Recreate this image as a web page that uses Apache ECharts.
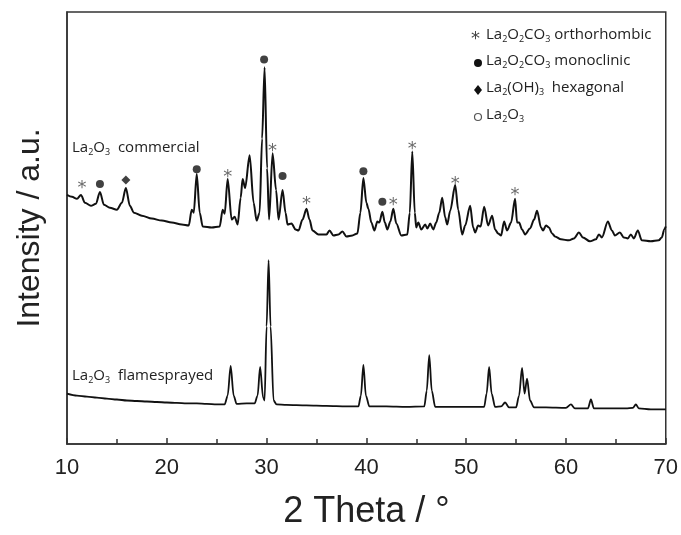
<!DOCTYPE html>
<html><head><meta charset="utf-8">
<script src="https://cdn.jsdelivr.net/npm/echarts@6/dist/echarts.min.js"></script>
<style>html,body{margin:0;padding:0;background:#fff}#c{width:681px;height:535px}</style>
</head><body><div id="c"></div>
<script>
// 2 Theta (deg), intensity (a.u.)
const commercial = [
[10.0,252],[10.5,250],[11.0,248],[11.4,252],[11.8,244],[12.4,241],[12.9,243],[13.3,255],[13.7,242],[14.3,239],
[15.0,237],[15.5,244],[15.9,259],[16.3,241],[16.7,234],[17.5,231],[18.5,228],[19.5,226],[20.5,224],[21.5,222],
[22.2,221],[22.5,237],[22.7,234],[23.0,273],[23.3,234],[23.6,220],[24.5,219],[25.3,220],[25.6,237],[25.8,233],
[26.1,268],[26.5,227],[26.8,230],[27.1,222],[27.4,249],[27.6,268],[27.85,259],[28.3,292],[28.7,244],[29.0,226],
[29.3,234],[29.55,309],[29.8,381],[30.05,279],[30.25,227],[30.6,294],[30.95,257],[31.2,227],[31.6,257],[31.9,234],
[32.1,222],[32.5,223],[32.9,217],[33.2,216],[33.6,227],[34.0,238],[34.3,227],[34.6,216],[35.2,212],[36.0,212],
[36.3,216],[36.7,211],[37.2,212],[37.6,215],[38.0,210],[38.6,211],[39.1,213],[39.4,234],[39.7,269],[40.0,244],
[40.2,238],[40.5,224],[40.8,216],[41.1,225],[41.3,224],[41.6,235],[41.85,224],[42.1,217],[42.4,225],[42.7,238],
[43.0,223],[43.5,211],[44.1,212],[44.35,234],[44.6,296],[44.85,234],[45.0,219],[45.2,224],[45.5,217],[45.9,222],
[46.1,218],[46.4,223],[46.7,217],[47.0,224],[47.3,234],[47.6,249],[47.9,229],[48.1,222],[48.4,236],[48.9,262],
[49.2,237],[49.6,212],[49.9,221],[50.4,241],[50.7,219],[50.9,214],[51.2,221],[51.45,220],[51.8,240],[52.2,221],
[52.6,231],[52.9,217],[53.2,213],[53.5,211],[53.8,225],[54.1,216],[54.5,224],[54.9,248],[55.1,224],[55.3,224],
[55.6,217],[55.9,212],[56.4,218],[56.8,227],[57.1,236],[57.5,219],[57.7,216],[58.0,221],[58.3,219],[58.6,213],
[58.9,210],[59.5,207],[60.3,206],[60.8,208],[61.3,214],[61.7,209],[62.4,205],[63.0,207],[63.3,212],[63.6,209],
[64.2,225],[64.6,216],[64.9,211],[65.4,214],[65.8,209],[66.2,208],[66.5,212],[66.8,208],[67.2,216],[67.6,206],
[68.5,205],[69.3,206],[69.6,209],[69.85,217],[70.0,220]
];
const flamesprayed = [
[10.0,51],[11.0,49],[12.0,48],[13.0,47],[14.0,46],[15.0,45],[16.0,44],[17.0,43.5],[18.0,43],[19.0,42.5],
[20.0,42],[21.0,41.5],[22.0,41],[23.0,41],[24.0,40.5],[25.0,40],[25.8,40],[26.1,49],[26.4,79],[26.7,49],
[27.0,40.5],[28.0,41],[28.8,41],[29.1,49],[29.35,78],[29.65,47],[29.8,44],[30.0,119],[30.2,186],[30.4,119],
[30.7,44],[31.0,40],[32.0,39.5],[34.0,39],[36.0,38.5],[38.0,38],[39.2,38],[39.45,49],[39.7,80],[39.95,49],
[40.3,38],[42.0,38],[44.0,37.5],[45.8,38],[46.05,54],[46.3,90],[46.55,54],[46.9,37.5],[48.0,37.5],[50.0,37.5],
[51.8,37.5],[52.05,51],[52.3,78],[52.55,51],[52.9,37.5],[53.5,38],[53.9,42],[54.3,37],[55.0,37],[55.3,49],
[55.6,77],[55.85,51],[56.1,66],[56.4,44],[56.8,37],[58.0,37],[60.0,36.5],[60.5,40],[60.9,36],[62.2,36],
[62.5,45],[62.8,36],[64.0,36],[66.0,36],[66.7,36.5],[67.0,40],[67.3,36],[68.5,35],[70.0,35]
];
// phase markers (2 Theta, intensity)
const orthorhombic = [[11.5,263],[26.1,274],[30.6,300],[34.0,246],[42.7,245],[44.6,302],[48.9,267],[54.9,256]];
const monoclinic = [[13.3,263],[23.0,278],[29.75,389],[31.6,271],[39.7,276],[41.6,245]];
const hexagonal = [[15.9,267]];
const la2o3 = [[26.4,85],[29.3,85],[30.2,192],[39.7,86],[46.3,97],[52.3,85],[55.6,84]];
const xTicks = [10,20,30,40,50,60,70];

const FONT = 'Open Sans';
const rich = {
  n:{fontSize:15,fontFamily:FONT,fill:'#222',lineHeight:19},
  s:{fontSize:9,fontFamily:FONT,fill:'#222',lineHeight:12,verticalAlign:'bottom'}
};
function txt(x,y,t){return {type:'text',left:x,top:y,style:{text:t,rich:rich,fill:'#222'}};}

const chart = echarts.init(document.getElementById('c'),null,{renderer:'canvas'});
chart.setOption({
  animation:false,
  backgroundColor:'#fff',
  grid:{left:67,right:14,top:12,bottom:86,show:true,borderColor:'#333',borderWidth:1.5},
  xAxis:{type:'value',min:10,max:70,interval:10,
    axisLine:{lineStyle:{color:'#333',width:1.5}},
    axisTick:{inside:true,length:6,lineStyle:{color:'#333',width:1.5}},
    minorTick:{show:true,splitNumber:2,length:5,lineStyle:{color:'#333',width:1.5}},
    splitLine:{show:false},
    axisLabel:{fontSize:22,fontFamily:'Liberation Sans',color:'#222',margin:13,
      formatter:v=>xTicks.includes(v)?String(v):''},
    name:'2 Theta / °',nameLocation:'middle',nameGap:50,
    nameTextStyle:{fontSize:36,fontFamily:'Liberation Sans',color:'#222'}},
  yAxis:{type:'value',min:0,max:437,
    axisLine:{show:true,lineStyle:{color:'#333',width:1.5}},
    axisTick:{show:false},axisLabel:{show:false},splitLine:{show:false},
    name:'Intensity / a.u.',nameLocation:'middle',nameGap:21,
    nameTextStyle:{fontSize:32,fontFamily:'Liberation Sans',color:'#222'}},
  series:[
    {type:'line',data:commercial,showSymbol:false,smooth:0.3,smoothMonotone:'x',
     lineStyle:{color:'#111',width:2}},
    {type:'line',data:flamesprayed,showSymbol:false,smooth:0.3,smoothMonotone:'x',
     lineStyle:{color:'#111',width:1.8}},
    {type:'scatter',data:orthorhombic,symbolSize:1,itemStyle:{color:'transparent'},
     label:{show:true,position:'inside',formatter:'*',fontSize:18,color:'#444',offset:[0,4],fontFamily:'DejaVu Sans'}},
    {type:'scatter',data:monoclinic,symbol:'circle',symbolSize:8,itemStyle:{color:'#111'}},
    {type:'scatter',data:hexagonal,symbol:'diamond',symbolSize:9,itemStyle:{color:'#111'}},
    {type:'scatter',data:la2o3,symbol:'emptyCircle',symbolSize:7,itemStyle:{color:'#fff',borderColor:'#555',borderWidth:1.2}}
  ],
  graphic:[
    {type:'text',left:471,top:30,style:{text:'*',fontSize:18,fontFamily:'DejaVu Sans',fill:'#444'}},
    txt(486,27,'{n|La}{s|2}{n|O}{s|2}{n|CO}{s|3}{n| orthorhombic}'),
    {type:'circle',shape:{cx:478,cy:63,r:4},style:{fill:'#111'}},
    txt(486,53,'{n|La}{s|2}{n|O}{s|2}{n|CO}{s|3}{n| monoclinic}'),
    {type:'polygon',shape:{points:[[478,85],[482,90],[478,95],[474,90]]},style:{fill:'#111'}},
    txt(486,80,'{n|La}{s|2}{n|(OH)}{s|3}{n|  hexagonal}'),
    {type:'circle',shape:{cx:478,cy:117,r:3.5},style:{fill:'#fff',stroke:'#555',lineWidth:1.2}},
    txt(486,107,'{n|La}{s|2}{n|O}{s|3}'),
    txt(72,140,'{n|La}{s|2}{n|O}{s|3}{n|  commercial}'),
    txt(72,368,'{n|La}{s|2}{n|O}{s|3}{n|  flamesprayed}')
  ]
});
</script></body></html>
